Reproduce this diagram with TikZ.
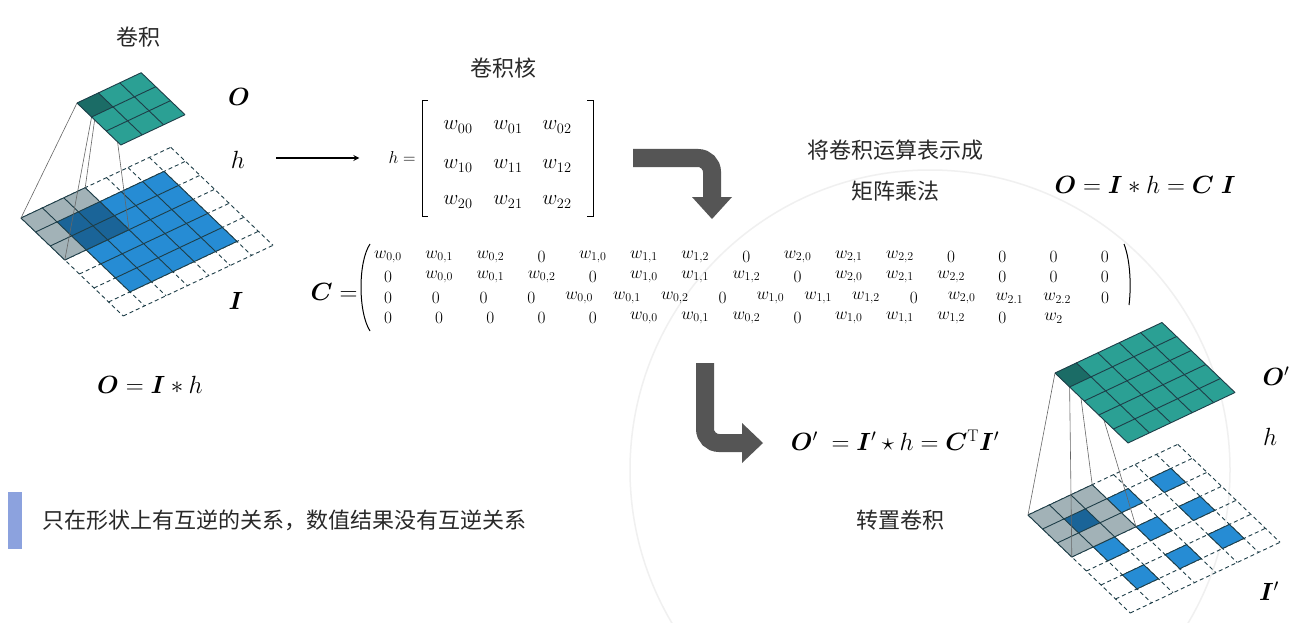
\documentclass[tikz,border=0pt]{standalone}
\usepackage{amsmath,bm}
\usepackage{fontspec}
\newfontfamily\cjk{Noto Sans CJK SC}
\definecolor{teal1}{RGB}{43,160,148}
\definecolor{teal2}{RGB}{27,108,102}
\definecolor{blue1}{RGB}{38,140,212}
\definecolor{blue2}{RGB}{26,100,152}
\definecolor{grey1}{RGB}{162,178,183}
\definecolor{gline}{RGB}{30,62,72}
\definecolor{arrowc}{RGB}{85,85,85}
\definecolor{txt}{RGB}{40,40,40}
\definecolor{barc}{RGB}{140,162,222}
\definecolor{bgc}{RGB}{240,240,240}
\tikzset{
  cjktext/.style={font=\cjk\fontsize{22}{26}\selectfont, text=txt, inner sep=0},
  mathlab/.style={font=\fontsize{24}{28}\selectfont, inner sep=0},
  ent/.style={font=\fontsize{20}{23}\selectfont, inner sep=0},
  heqs/.style={font=\fontsize{17}{20}\selectfont, inner sep=0},
  cent/.style={font=\fontsize{17}{19}\selectfont, inner sep=0},
  gridl/.style={draw=gline, line width=0.9pt},
  dgrid/.style={draw=gline, line width=0.9pt, dashed, dash pattern=on 4pt off 3pt},
  proj/.style={draw=black!60, line width=0.6pt},
  bigarrow/.style={draw=arrowc, line width=18pt, rounded corners=14pt},
  iso/.style={cm={21.4,10.1,-14.6,14,(0,0)}},
}
\newcommand\isogrid[5]{% style, x0, y0, x1, y1
  \foreach \gx in {#2,...,#4} \draw[#1] (\gx,#3) -- (\gx,#5);
  \foreach \gy in {#3,...,#5} \draw[#1] (#2,\gy) -- (#4,\gy);
}
\begin{document}
\begin{tikzpicture}[x=1pt,y=-1pt]
\useasboundingbox (0,0) rectangle (1301,623);
\fill[white] (0,0) rectangle (1301,623);
\draw[bgc, line width=1.5pt] (930,470) circle (300);
\draw[bgc, line width=1.5pt] (365,623) arc[start angle=180, end angle=122, radius=600];

% ---------- left convolution ----------
\begin{scope}[shift={(21,218)}, iso]
  \isogrid{dgrid}{0}{0}{7}{7}
  \fill[blue1] (1,1) rectangle (6,6);
  \isogrid{gridl}{1}{1}{6}{6}
  \fill[grey1] (0,0) rectangle (3,3);
  \fill[blue2] (1,1) rectangle (3,3);
  \isogrid{gridl}{0}{0}{3}{3}
  \coordinate (Lg00) at (0,0); \coordinate (Lg30) at (3,0);
  \coordinate (Lg03) at (0,3); \coordinate (Lg33) at (3,3);
\end{scope}
\begin{scope}[shift={(77,103)}, iso]
  \coordinate (Lo00) at (0,0); \coordinate (Lo10) at (1,0);
  \coordinate (Lo01) at (0,1); \coordinate (Lo11) at (1,1);
\end{scope}
\draw[proj] (Lo00) -- (Lg00); \draw[proj] (Lo10) -- (Lg30);
\draw[proj] (Lo01) -- (Lg03); \draw[proj] (Lo11) -- (Lg33);
\begin{scope}[shift={(77,103)}, iso]
  \fill[teal1] (0,0) rectangle (3,3);
  \fill[teal2] (0,0) rectangle (1,1);
  \isogrid{gridl}{0}{0}{3}{3}
\end{scope}

\node[cjktext] (t1) at (138,37) {卷积};
\node[mathlab] (lO) at (239,97) {$\bm{O}$};
\node[mathlab] (lh) at (238,160) {$h$};
\node[mathlab] (lI) at (236,301) {$\bm{I}$};
\node[mathlab] (eq1) at (150,385) {$\bm{O}=\bm{I}*h$};

% ---------- kernel ----------
\coordinate (a1s) at (276,158);
\node[inner sep=0] (a1e) at (360,158) {};
\draw[line width=1.6pt, -stealth] (a1s) -- (a1e);
\node[cjktext] (t2) at (503,68) {卷积核};
\node[heqs] (heq) at (402,158) {$h=$};
\draw[line width=1pt] (428,101) -- (422,101) -- (422,216) -- (428,216);
\draw[line width=1pt] (587,101) -- (593,101) -- (593,216) -- (587,216);
\foreach \r/\yy in {0/127,1/166,2/202}{
  \foreach \c/\xx in {0/458,1/508,2/557}{
    \node[ent] (k\r\c) at (\xx,\yy) {$w_{\r\c}$};
  }
}

% ---------- arrow 1 ----------
\coordinate (b1s) at (633,158);
\coordinate (b1m) at (712,158);
\coordinate (b1e) at (712,199);
\draw[bigarrow] (b1s) -- (b1m) -- (b1e);
\fill[arrowc] (692,197) -- (732,197) -- (712,219) -- cycle;

\node[cjktext] (t3) at (895,150) {将卷积运算表示成};
\node[cjktext] (t4) at (895,191) {矩阵乘法};
\node[mathlab] (eq2) at (1145,185) {$\bm{O}=\bm{I}*h=\bm{C}\;\bm{I}$};

% ---------- C matrix ----------
\node[mathlab] (Ceq) at (334,292) {$\bm{C}=$};
\draw[line width=1pt] (370,244) .. controls (358,262) and (358,312) .. (370,331);
\draw[line width=1pt] (1124,244) .. controls (1131,262) and (1131,290) .. (1129,305);
\foreach \e [count=\c from 0] in {w_{0,0},w_{0,1},w_{0,2},0,w_{1,0},w_{1,1},w_{1,2},0,w_{2,0},w_{2,1},w_{2,2},0,0,0,0}
  \node[cent] (ca\c) at (388+51.2*\c,257) {$\e$};
\foreach \e [count=\c from 0] in {0,w_{0,0},w_{0,1},w_{0,2},0,w_{1,0},w_{1,1},w_{1,2},0,w_{2,0},w_{2,1},w_{2,2},0,0,0}
  \node[cent] (cb\c) at (388+51.2*\c,277) {$\e$};
\foreach \e [count=\c from 0] in {0,0,0,0,w_{0,0},w_{0,1},w_{0,2},0,w_{1,0},w_{1,1},w_{1,2},0,w_{2,0},w_{2.1},w_{2.2},0}
  \node[cent] (cc\c) at (388+47.8*\c,298) {$\e$};
\foreach \e [count=\c from 0] in {0,0,0,0,0,w_{0,0},w_{0,1},w_{0,2},0,w_{1,0},w_{1,1},w_{1,2},0,w_2}
  \node[cent] (cd\c) at (388+51.2*\c,318) {$\e$};

% ---------- arrow 2 ----------
\coordinate (b2s) at (705,363);
\coordinate (b2m) at (705,443);
\coordinate (b2e) at (744,443);
\draw[bigarrow] (b2s) -- (b2m) -- (b2e);
\fill[arrowc] (742,423) -- (742,463) -- (763,443) -- cycle;

\node[mathlab] (eq3) at (895,440) {$\bm{O}'\;=\bm{I}'\star h=\bm{C}^{\mathrm{T}}\bm{I}'$};
\node[cjktext] (t5) at (900,520) {转置卷积};

% ---------- bottom note ----------
\fill[barc] (8,492) rectangle (22,549);
\node[cjktext, anchor=west] (note) at (42,520) {只在形状上有互逆的关系，数值结果没有互逆关系};

% ---------- right transposed convolution ----------
\begin{scope}[shift={(1028,515)}, iso]
  \isogrid{dgrid}{0}{0}{7}{7}
  \foreach \i in {1,3,5}{\foreach \j in {1,3,5}{
    \fill[blue1] (\i,\j) rectangle ++(1,1);
    \draw[gridl] (\i,\j) rectangle ++(1,1);
  }}
  \fill[grey1] (0,0) rectangle (3,3);
  \fill[blue2] (1,1) rectangle (2,2);
  \isogrid{gridl}{0}{0}{3}{3}
  \coordinate (Rg00) at (0,0); \coordinate (Rg30) at (3,0);
  \coordinate (Rg03) at (0,3); \coordinate (Rg33) at (3,3);
\end{scope}
\begin{scope}[shift={(1055,373)}, iso]
  \coordinate (Ro00) at (0,0); \coordinate (Ro10) at (1,0);
  \coordinate (Ro01) at (0,1); \coordinate (Ro11) at (1,1);
\end{scope}
\draw[proj] (Ro00) -- (Rg00); \draw[proj] (Ro10) -- (Rg30);
\draw[proj] (Ro01) -- (Rg03); \draw[proj] (Ro11) -- (Rg33);
\begin{scope}[shift={(1055,373)}, iso]
  \fill[teal1] (0,0) rectangle (5,5);
  \fill[teal2] (0,0) rectangle (1,1);
  \isogrid{gridl}{0}{0}{5}{5}
\end{scope}
\node[mathlab] (rO) at (1276,376) {$\bm{O}'$};
\node[mathlab] (rh) at (1270,437) {$h$};
\node[mathlab] (rI) at (1269,591) {$\bm{I}'$};
\end{tikzpicture}
\end{document}
